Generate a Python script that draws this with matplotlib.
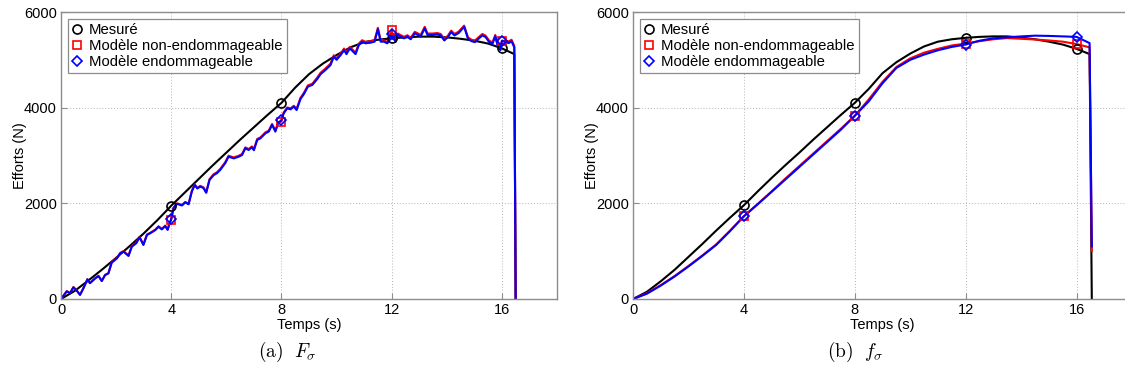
import matplotlib

matplotlib.use("Agg")
import matplotlib.pyplot as plt

plt.rcParams["font.family"] = ["Liberation Sans", "DejaVu Sans"]
plt.rcParams["mathtext.fontset"] = "cm"

# --- (a) F_sigma : measured curve
T_MES_A = [0, 0.5, 1, 1.5, 2, 2.5, 3, 3.5, 4, 4.5, 5, 5.5, 6, 6.5, 7, 7.5, 8, 8.5,
           9, 9.5, 10, 10.5, 11, 11.5, 12, 12.5, 13, 13.5, 14, 14.5, 15, 15.5, 16,
           16.45, 16.5]
F_MES_A = [0, 170, 390, 620, 860, 1110, 1370, 1650, 1950, 2230, 2510, 2790, 3060,
           3330, 3590, 3850, 4100, 4420, 4700, 4920, 5100, 5260, 5370, 5420, 5450,
           5470, 5485, 5485, 5470, 5440, 5400, 5340, 5240, 5120, 0]

# --- (a) F_sigma : model curves (noisy)
T_MOD_A = [0.00, 0.21, 0.33, 0.45, 0.57, 0.69, 0.81, 0.96, 1.05, 1.24, 1.36, 1.48,
           1.60, 1.72, 1.84, 2.03, 2.15, 2.27, 2.45, 2.57, 2.73, 2.85, 2.99, 3.12,
           3.24, 3.42, 3.54, 3.66, 3.78, 3.87, 3.94, 4.00, 4.08, 4.21, 4.39, 4.51,
           4.63, 4.75, 4.85, 4.95, 5.05, 5.17, 5.27, 5.39, 5.54, 5.66, 5.78, 5.96,
           6.08, 6.27, 6.45, 6.57, 6.69, 6.81, 6.93, 7.00, 7.12, 7.24, 7.42, 7.54,
           7.66, 7.78, 7.88, 8.00, 8.08, 8.21, 8.33, 8.45, 8.55, 8.69, 8.81, 8.96,
           9.12, 9.30, 9.42, 9.60, 9.78, 9.90, 10.00, 10.15, 10.27, 10.36, 10.48,
           10.60, 10.69, 10.81, 10.93, 11.05, 11.24, 11.38, 11.50, 11.60, 11.72,
           11.84, 11.93, 12.00, 12.06, 12.15, 12.23, 12.33, 12.45, 12.57, 12.69,
           12.84, 12.96, 13.05, 13.20, 13.30, 13.48, 13.66, 13.78, 13.91, 14.04,
           14.16, 14.28, 14.43, 14.63, 14.77, 14.90, 15.02, 15.15, 15.29, 15.41,
           15.54, 15.66, 15.76, 15.86, 15.95, 16.00, 16.13, 16.25, 16.35, 16.45,
           16.50]
F_ENDO_A = [0, 160, 120, 245, 175, 85, 220, 410, 330, 430, 480, 375,
            500, 535, 760, 850, 955, 990, 900, 1095, 1165, 1290, 1130, 1340,
            1375, 1440, 1510, 1455, 1525, 1445, 1580, 1670, 1895, 1990, 1955, 2020,
            1980, 2250, 2380, 2310, 2350, 2320, 2220, 2490, 2590, 2630, 2700, 2840,
            2975, 2940, 2975, 3010, 3150, 3115, 3170, 3110, 3325, 3360, 3465, 3500,
            3640, 3500, 3680, 3740, 3880, 3985, 3965, 4020, 3950, 4180, 4280, 4440,
            4475, 4600, 4700, 4790, 4890, 5065, 5000, 5100, 5205, 5120, 5240,
            5170, 5120, 5310, 5380, 5345, 5360, 5380, 5640, 5380, 5380,
            5345, 5415, 5540, 5450, 5380, 5520, 5485, 5450, 5485, 5430,
            5555, 5520, 5485, 5660, 5520, 5520, 5530, 5510, 5405, 5475,
            5580, 5510, 5560, 5690, 5440, 5390, 5370, 5440, 5510, 5475,
            5370, 5335, 5490, 5260, 5205, 5400, 5370, 5350, 5390, 5260,
            0]
F_NON_A = [0, 165, 125, 250, 180, 90, 225, 415, 335, 435, 485, 380,
           505, 540, 770, 860, 965, 1000, 910, 1105, 1175, 1300, 1140, 1350,
           1385, 1450, 1520, 1465, 1535, 1455, 1590, 1660, 1905, 2000, 1965, 2030,
           1990, 2265, 2395, 2325, 2365, 2335, 2235, 2505, 2610, 2650, 2720, 2860,
           2995, 2960, 2995, 3030, 3170, 3135, 3190, 3130, 3345, 3380, 3485, 3520,
           3660, 3520, 3690, 3710, 3900, 4005, 3985, 4040, 3975, 4205, 4305, 4465,
           4500, 4630, 4730, 4820, 4920, 5095, 5030, 5130, 5235, 5150, 5270,
           5200, 5150, 5340, 5410, 5375, 5390, 5410, 5670, 5410, 5410,
           5375, 5445, 5620, 5480, 5410, 5550, 5515, 5480, 5515, 5460,
           5585, 5550, 5515, 5690, 5550, 5550, 5560, 5540, 5435, 5505,
           5610, 5540, 5590, 5715, 5470, 5420, 5400, 5470, 5540, 5505,
           5400, 5365, 5520, 5290, 5235, 5390, 5400, 5385, 5420, 5290,
           0]

# --- (b) f_sigma : all curves smooth
T_B = [0, 0.5, 1, 1.5, 2, 2.5, 3, 3.5, 4, 4.5, 5, 5.5, 6, 6.5, 7, 7.5, 8, 8.5, 9,
       9.5, 10, 10.5, 11, 11.5, 12, 12.5, 13, 13.5, 14, 14.5, 15, 15.5, 16, 16.47,
       16.55]
F_MES_B = [0, 150, 370, 610, 880, 1150, 1430, 1700, 1960, 2250, 2530, 2800, 3060,
           3330, 3590, 3850, 4100, 4390, 4720, 4950, 5130, 5280, 5380, 5430, 5460,
           5480, 5490, 5490, 5465, 5430, 5380, 5320, 5230, 5120, 0]
F_NON_B = [0, 120, 290, 480, 690, 910, 1140, 1430, 1730, 1990, 2250, 2520, 2780,
           3040, 3300, 3560, 3830, 4170, 4540, 4850, 5030, 5150, 5230, 5300, 5340,
           5390, 5430, 5455, 5440, 5425, 5405, 5380, 5330, 5260, 1000]
F_ENDO_B = [0, 110, 280, 470, 680, 900, 1130, 1420, 1730, 1980, 2240, 2500, 2760,
            3020, 3280, 3540, 3830, 4130, 4510, 4830, 5000, 5110, 5200, 5270, 5320,
            5400, 5450, 5470, 5490, 5505, 5500, 5490, 5480, 5350, 1100]

MARK_T = [4, 8, 12, 16]
LABELS = ["Mesuré", "Modèle non-endommageable", "Modèle endommageable"]
CAPTIONS = [r"$\mathrm{(a)}\ \ F_\sigma$", r"$\mathrm{(b)}\ \ f_\sigma$"]

W, H = 1125, 381
GRAY = "#8c8c8c"


def _mark_idx(t):
    return [t.index(v) for v in MARK_T]


def _draw(ax, series):
    styles = [("k", "o"), ("#ff0000", "s"), ("#0000ff", "D")]
    for (t, f), (col, mk) in zip(series, styles):
        ax.plot(t, f, color=col, lw=1.5)
    for (t, f), (col, mk), lab in zip(series, styles, LABELS):
        ax.plot(t, f, ls="none", marker=mk, markevery=_mark_idx(t), mfc="none",
                mec=col, mew=1.2, ms=6.5 if mk == "o" else 5.5, label=lab)

    ax.set_xlim(0, 18)
    ax.set_ylim(0, 6000)
    ax.set_xticks([0, 4, 8, 12, 16])
    ax.set_yticks([0, 2000, 4000, 6000])
    ax.grid(True, ls=(0, (1, 2)), color="#b4b4b4", lw=0.7)
    ax.tick_params(direction="in", length=4, color=GRAY, labelsize=10.5, pad=3)
    for sp in ax.spines.values():
        sp.set_color(GRAY)
        sp.set_linewidth(1.0)
    ax.set_xlabel("Temps (s)", fontsize=10.5)
    ax.set_ylabel("Efforts (N)", fontsize=10.5)
    ax.yaxis.set_label_coords(-0.069, 0.5)
    ax.xaxis.set_label_coords(0.5, -0.065)
    leg = ax.legend(loc="upper left", fontsize=10.7, handlelength=0.7,
                    handletextpad=0.45, labelspacing=0.12, borderpad=0.3,
                    borderaxespad=0.45, fancybox=False, framealpha=1)
    leg.get_frame().set_edgecolor(GRAY)
    leg.get_frame().set_linewidth(0.9)


fig = plt.figure(figsize=(W / 100, H / 100), dpi=100)
ax_a = fig.add_axes([61 / W, 1 - 299 / H, 496 / W, 287 / H])
ax_b = fig.add_axes([633 / W, 1 - 299 / H, 499 / W, 287 / H])

_draw(ax_a, [(T_MES_A, F_MES_A), (T_MOD_A, F_NON_A), (T_MOD_A, F_ENDO_A)])
_draw(ax_b, [(T_B, F_MES_B), (T_B, F_NON_B), (T_B, F_ENDO_B)])
# the right panel is cut by the page edge in the original
ax_b.spines["right"].set_visible(False)

fig.text(287 / W, 1 - 352 / H, CAPTIONS[0], ha="center", va="center", fontsize=14)
fig.text(855 / W, 1 - 352 / H, CAPTIONS[1], ha="center", va="center", fontsize=14)

fig.savefig("out.png", dpi=100)
